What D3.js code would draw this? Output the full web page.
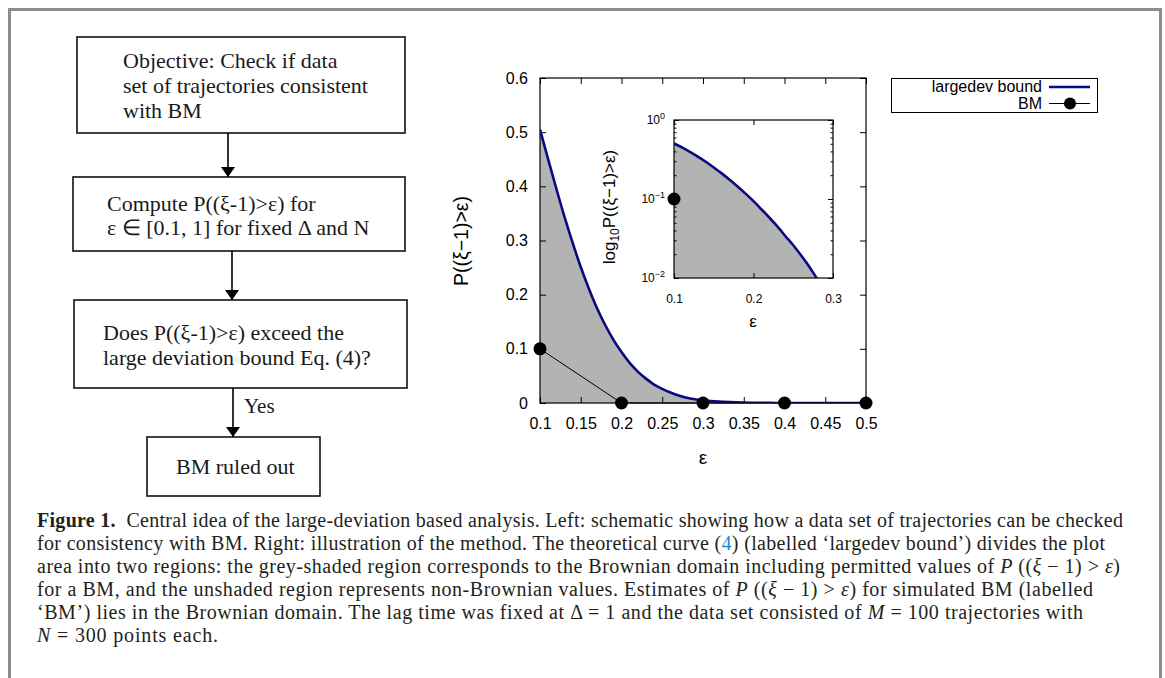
<!DOCTYPE html>
<html>
<head>
<meta charset="utf-8">
<script src="https://cdn.jsdelivr.net/npm/d3@7"></script>
<style>
  html, body { margin: 0; padding: 0; background: #fff; }
  svg { display: block; }
</style>
</head>
<body>
<svg id="fig" width="1165" height="678"></svg>
<script>
// ---------------- DATA ----------------
const epsGrid   = [0.10,0.11,0.12,0.13,0.14,0.15,0.16,0.17,0.18,0.19,0.20,0.21,0.22,0.23,0.24,0.25,0.26,0.27,0.28,0.29,0.30,0.32,0.34,0.36,0.38,0.40,0.45,0.50];
const boundVals = [0.505,0.450,0.396,0.344,0.296,0.251,0.211,0.175,0.144,0.117,0.094,0.074,0.058,0.045,0.034,0.026,0.0193,0.0140,0.0098,0.0070,0.0050,0.0025,0.0012,0.0005,0.0002,0.0001,0.00001,0.000001];
const bmEps  = [0.1, 0.2, 0.3, 0.4, 0.5];
const bmVals = [0.1, 0.0, 0.0, 0.0, 0.0];
const xTicks = [0.1,0.15,0.2,0.25,0.3,0.35,0.4,0.45,0.5];
const yTicks = [0,0.1,0.2,0.3,0.4,0.5,0.6];
const insetXTicks = [0.1,0.2,0.3];
const insetYTicks = [0.01,0.1,1];
const insetYTickLabels = [["10","−2"],["10","−1"],["10","0"]];
const legendLabels = ["largedev bound","BM"];
const flowBoxes = [
  ["Objective: Check if data","set of trajectories consistent","with BM"],
  ["Compute P((ξ-1)>ε) for","ε ∈ [0.1, 1] for fixed Δ and N"],
  ["Does P((ξ-1)>ε) exceed the","large deviation bound Eq. (4)?"],
  ["BM ruled out"]
];
const captionLines = [
  [{t:"Figure 1.",b:1},{t:"  Central idea of the large-deviation based analysis. Left: schematic showing how a data set of trajectories can be checked"}],
  [{t:"for consistency with BM. Right: illustration of the method. The theoretical curve ("},{t:"4",c:"#1c8ad3"},{t:") (labelled ‘largedev bound’) divides the plot"}],
  [{t:"area into two regions: the grey-shaded region corresponds to the Brownian domain including permitted values of "},{t:"P",i:1},{t:" (("},{t:"ξ",i:1},{t:" − 1) > "},{t:"ε",i:1},{t:")"}],
  [{t:"for a BM, and the unshaded region represents non-Brownian values. Estimates of "},{t:"P",i:1},{t:" (("},{t:"ξ",i:1},{t:" − 1) > "},{t:"ε",i:1},{t:") for simulated BM (labelled"}],
  [{t:"‘BM’) lies in the Brownian domain. The lag time was fixed at Δ = 1 and the data set consisted of "},{t:"M",i:1},{t:" = 100 trajectories with"}],
  [{t:"N",i:1},{t:" = 300 points each."}]
];

// ---------------- SETUP ----------------
const svg = d3.select("#fig");
const SANS = "'Liberation Sans', Arial, Helvetica, sans-serif";
const SERIF = "'Liberation Serif', 'Times New Roman', serif";
const NAVY = "#0a0a80";
const GREY = "#b3b3b3";

// outer frame
svg.append("path")
  .attr("d", "M9.5,678 L9.5,9.5 L1160.5,9.5 L1160.5,678")
  .attr("fill","none").attr("stroke","#8c8c8c").attr("stroke-width",3);

// ---------------- FLOWCHART ----------------
const defs = svg.append("defs");
defs.append("marker").attr("id","arrowHead")
  .attr("viewBox","0 0 10 14").attr("refX",10).attr("refY",7)
  .attr("markerWidth",10).attr("markerHeight",14).attr("orient","auto")
  .attr("markerUnits","userSpaceOnUse")
  .append("path").attr("d","M0,0 L10,7 L0,14 Z").attr("fill","#000");

const boxGeom = [
  {x0:77, y0:37, x1:405, y1:133, tx:123, ty:[68,93,118]},
  {x0:73, y0:177, x1:405, y1:251, tx:107, ty:[211,235]},
  {x0:74, y0:300, x1:407, y1:388, tx:103, ty:[340,365]},
  {x0:147, y0:437, x1:320, y1:496, tx:176, ty:[474]}
];
const fc = svg.append("g");
boxGeom.forEach((g,i)=>{
  fc.append("rect").attr("x",g.x0).attr("y",g.y0)
    .attr("width",g.x1-g.x0).attr("height",g.y1-g.y0)
    .attr("fill","#fff").attr("stroke","#111").attr("stroke-width",1.6);
  flowBoxes[i].forEach((line,j)=>{
    fc.append("text").attr("x",g.tx).attr("y",g.ty[j])
      .attr("font-family",SERIF).attr("font-size",22).attr("fill","#1a1a1a")
      .text(line);
  });
});
const arrows = [[228,133,177],[232,251,300],[233,388,437]];
arrows.forEach(a=>{
  fc.append("line").attr("x1",a[0]).attr("x2",a[0]).attr("y1",a[1]).attr("y2",a[2])
    .attr("stroke","#000").attr("stroke-width",1.6).attr("marker-end","url(#arrowHead)");
});
fc.append("text").attr("x",244).attr("y",413).attr("font-family",SERIF)
  .attr("font-size",21).attr("fill","#1a1a1a").text("Yes");

// ---------------- MAIN PLOT ----------------
const M = {l:540, r:866, t:78, b:403};
const x = d3.scaleLinear().domain([0.1,0.5]).range([M.l,M.r]);
const y = d3.scaleLinear().domain([0,0.6]).range([M.b,M.t]);

const boundData = epsGrid.map((e,i)=>({e, v:boundVals[i]}));
const bmData = bmEps.map((e,i)=>({e, v:bmVals[i]}));

defs.append("clipPath").attr("id","mainClip").append("rect")
  .attr("x",M.l).attr("y",M.t).attr("width",M.r-M.l).attr("height",M.b-M.t);

const main = svg.append("g");
main.append("path").datum(boundData)
  .attr("clip-path","url(#mainClip)")
  .attr("fill",GREY)
  .attr("d", d3.area().x(d=>x(d.e)).y0(y(0)).y1(d=>y(d.v)).curve(d3.curveMonotoneX));

// axes
const tickFmt = d=>String(d);
main.append("g").attr("transform",`translate(0,${M.b})`)
  .call(d3.axisBottom(x).tickValues(xTicks).tickSize(-6).tickPadding(15).tickFormat(tickFmt));
main.append("g").attr("transform",`translate(0,${M.t})`)
  .call(d3.axisTop(x).tickValues(xTicks).tickSize(-6).tickFormat(""));
main.append("g").attr("transform",`translate(${M.l},0)`)
  .call(d3.axisLeft(y).tickValues(yTicks).tickSize(-6).tickPadding(12).tickFormat(tickFmt));
main.append("g").attr("transform",`translate(${M.r},0)`)
  .call(d3.axisRight(y).tickValues(yTicks).tickSize(-6).tickFormat(""));
main.selectAll(".domain").remove();
main.selectAll(".tick line").attr("stroke","#000").attr("stroke-width",1);
main.selectAll(".tick text").attr("font-family",SANS).attr("font-size",16).attr("fill","#000");
main.append("rect").attr("x",M.l).attr("y",M.t).attr("width",M.r-M.l).attr("height",M.b-M.t)
  .attr("fill","none").attr("stroke","#000").attr("stroke-width",1.2);

// curve
main.append("path").datum(boundData)
  .attr("clip-path","url(#mainClip)")
  .attr("fill","none").attr("stroke",NAVY).attr("stroke-width",2.6)
  .attr("d", d3.line().x(d=>x(d.e)).y(d=>y(d.v)).curve(d3.curveMonotoneX));

// BM
main.append("path").datum(bmData)
  .attr("fill","none").attr("stroke","#000").attr("stroke-width",1)
  .attr("d", d3.line().x(d=>x(d.e)).y(d=>y(d.v)));
main.selectAll("circle.bm").data(bmData).enter().append("circle")
  .attr("cx",d=>x(d.e)).attr("cy",d=>y(d.v)).attr("r",6.5).attr("fill","#000");

// labels
main.append("text").attr("transform",`translate(468,241) rotate(-90)`)
  .attr("text-anchor","middle").attr("font-family",SANS).attr("font-size",19.5)
  .text("P((ξ−1)>ε)");
main.append("text").attr("x",703).attr("y",464).attr("text-anchor","middle")
  .attr("font-family",SANS).attr("font-size",19).text("ε");

// ---------------- INSET ----------------
const I = {l:674, r:833, t:120, b:278};
const xi = d3.scaleLinear().domain([0.1,0.3]).range([I.l,I.r]);
const yi = d3.scaleLog().domain([0.01,1]).range([I.b,I.t]);
defs.append("clipPath").attr("id","insetClip").append("rect")
  .attr("x",I.l).attr("y",I.t).attr("width",I.r-I.l).attr("height",I.b-I.t);

const ins = svg.append("g");
ins.append("rect").attr("x",I.l).attr("y",I.t).attr("width",I.r-I.l).attr("height",I.b-I.t)
  .attr("fill","#fff");
ins.append("path").datum(boundData)
  .attr("clip-path","url(#insetClip)").attr("fill",GREY)
  .attr("d", d3.area().x(d=>xi(d.e)).y0(I.b+5).y1(d=>yi(d.v)).curve(d3.curveMonotoneX));

// ticks
const minorVals = [];
[0.01,0.1].forEach(dec=>{ for(let k=2;k<=9;k++) minorVals.push(dec*k); });
ins.append("g").attr("transform",`translate(0,${I.b})`)
  .call(d3.axisBottom(xi).tickValues(insetXTicks).tickSize(-5).tickPadding(16).tickFormat(tickFmt));
ins.append("g").attr("transform",`translate(0,${I.t})`)
  .call(d3.axisTop(xi).tickValues(insetXTicks).tickSize(-5).tickFormat(""));
ins.append("g").attr("transform",`translate(${I.l},0)`)
  .call(d3.axisLeft(yi).tickValues(insetYTicks).tickSize(-5).tickFormat(""));
ins.append("g").attr("transform",`translate(${I.r},0)`)
  .call(d3.axisRight(yi).tickValues(insetYTicks).tickSize(-5).tickFormat(""));
ins.append("g").attr("transform",`translate(${I.l},0)`)
  .call(d3.axisLeft(yi).tickValues(minorVals).tickSize(-2.5).tickFormat(""));
ins.append("g").attr("transform",`translate(${I.r},0)`)
  .call(d3.axisRight(yi).tickValues(minorVals).tickSize(-2.5).tickFormat(""));
ins.selectAll(".domain").remove();
ins.selectAll(".tick line").attr("stroke","#000").attr("stroke-width",1);
ins.selectAll(".tick text").attr("font-family",SANS).attr("font-size",12).attr("fill","#000");

// y labels 10^n
insetYTicks.forEach((v,i)=>{
  const t = ins.append("text").attr("x",I.l-9).attr("y",yi(v)+4)
    .attr("text-anchor","end").attr("font-family",SANS).attr("font-size",12);
  t.append("tspan").text(insetYTickLabels[i][0]);
  t.append("tspan").attr("dy",-5).attr("font-size",9).text(insetYTickLabels[i][1]);
});
ins.append("rect").attr("x",I.l).attr("y",I.t).attr("width",I.r-I.l).attr("height",I.b-I.t)
  .attr("fill","none").attr("stroke","#000").attr("stroke-width",1.2);

ins.append("path").datum(boundData)
  .attr("clip-path","url(#insetClip)")
  .attr("fill","none").attr("stroke",NAVY).attr("stroke-width",2.6)
  .attr("d", d3.line().x(d=>xi(d.e)).y(d=>yi(d.v)).curve(d3.curveMonotoneX));
ins.selectAll("circle.bmi").data(bmData.filter(d=>d.v>0)).enter().append("circle")
  .attr("cx",d=>xi(d.e)).attr("cy",d=>yi(d.v)).attr("r",6.5).attr("fill","#000");

const yl = ins.append("text").attr("transform",`translate(615,207) rotate(-90)`)
  .attr("text-anchor","middle").attr("font-family",SANS).attr("font-size",17);
yl.append("tspan").text("log");
yl.append("tspan").attr("dy",4).attr("font-size",12).text("10");
yl.append("tspan").attr("dy",-4).text("P((ξ−1)>ε)");
ins.append("text").attr("x",753).attr("y",327).attr("text-anchor","middle")
  .attr("font-family",SANS).attr("font-size",17).text("ε");

// ---------------- LEGEND ----------------
const lg = svg.append("g");
lg.append("rect").attr("x",891.5).attr("y",78.5).attr("width",206).attr("height",34)
  .attr("fill","#fff").attr("stroke","#000").attr("stroke-width",1);
lg.append("text").attr("x",1042).attr("y",92).attr("text-anchor","end")
  .attr("font-family",SANS).attr("font-size",16).text(legendLabels[0]);
lg.append("line").attr("x1",1049).attr("x2",1090).attr("y1",87).attr("y2",87)
  .attr("stroke",NAVY).attr("stroke-width",2.4);
lg.append("text").attr("x",1042).attr("y",109).attr("text-anchor","end")
  .attr("font-family",SANS).attr("font-size",16).text(legendLabels[1]);
lg.append("line").attr("x1",1049).attr("x2",1090).attr("y1",103.5).attr("y2",103.5)
  .attr("stroke","#000").attr("stroke-width",1);
lg.append("circle").attr("cx",1070).attr("cy",103.5).attr("r",6).attr("fill","#000");

// ---------------- CAPTION ----------------
const capBase = [527,550,573,596,619,642];
const capWidths = [1086,1068,1083,1056,1046,181];
const cap = svg.append("g");
captionLines.forEach((segs,i)=>{
  const t = cap.append("text").attr("x",37).attr("y",capBase[i])
    .attr("font-family",SERIF).attr("font-size",20).attr("fill","#231f20")
    .attr("xml:space","preserve").style("white-space","pre");
  segs.forEach(s=>{
    const ts = t.append("tspan").text(s.t);
    if (s.b) ts.attr("font-weight","bold");
    if (s.i) ts.attr("font-style","italic");
    if (s.c) ts.attr("fill",s.c);
  });
  if (capWidths[i]) t.attr("textLength",capWidths[i]).attr("lengthAdjust","spacing");
});
</script>
</body>
</html>
